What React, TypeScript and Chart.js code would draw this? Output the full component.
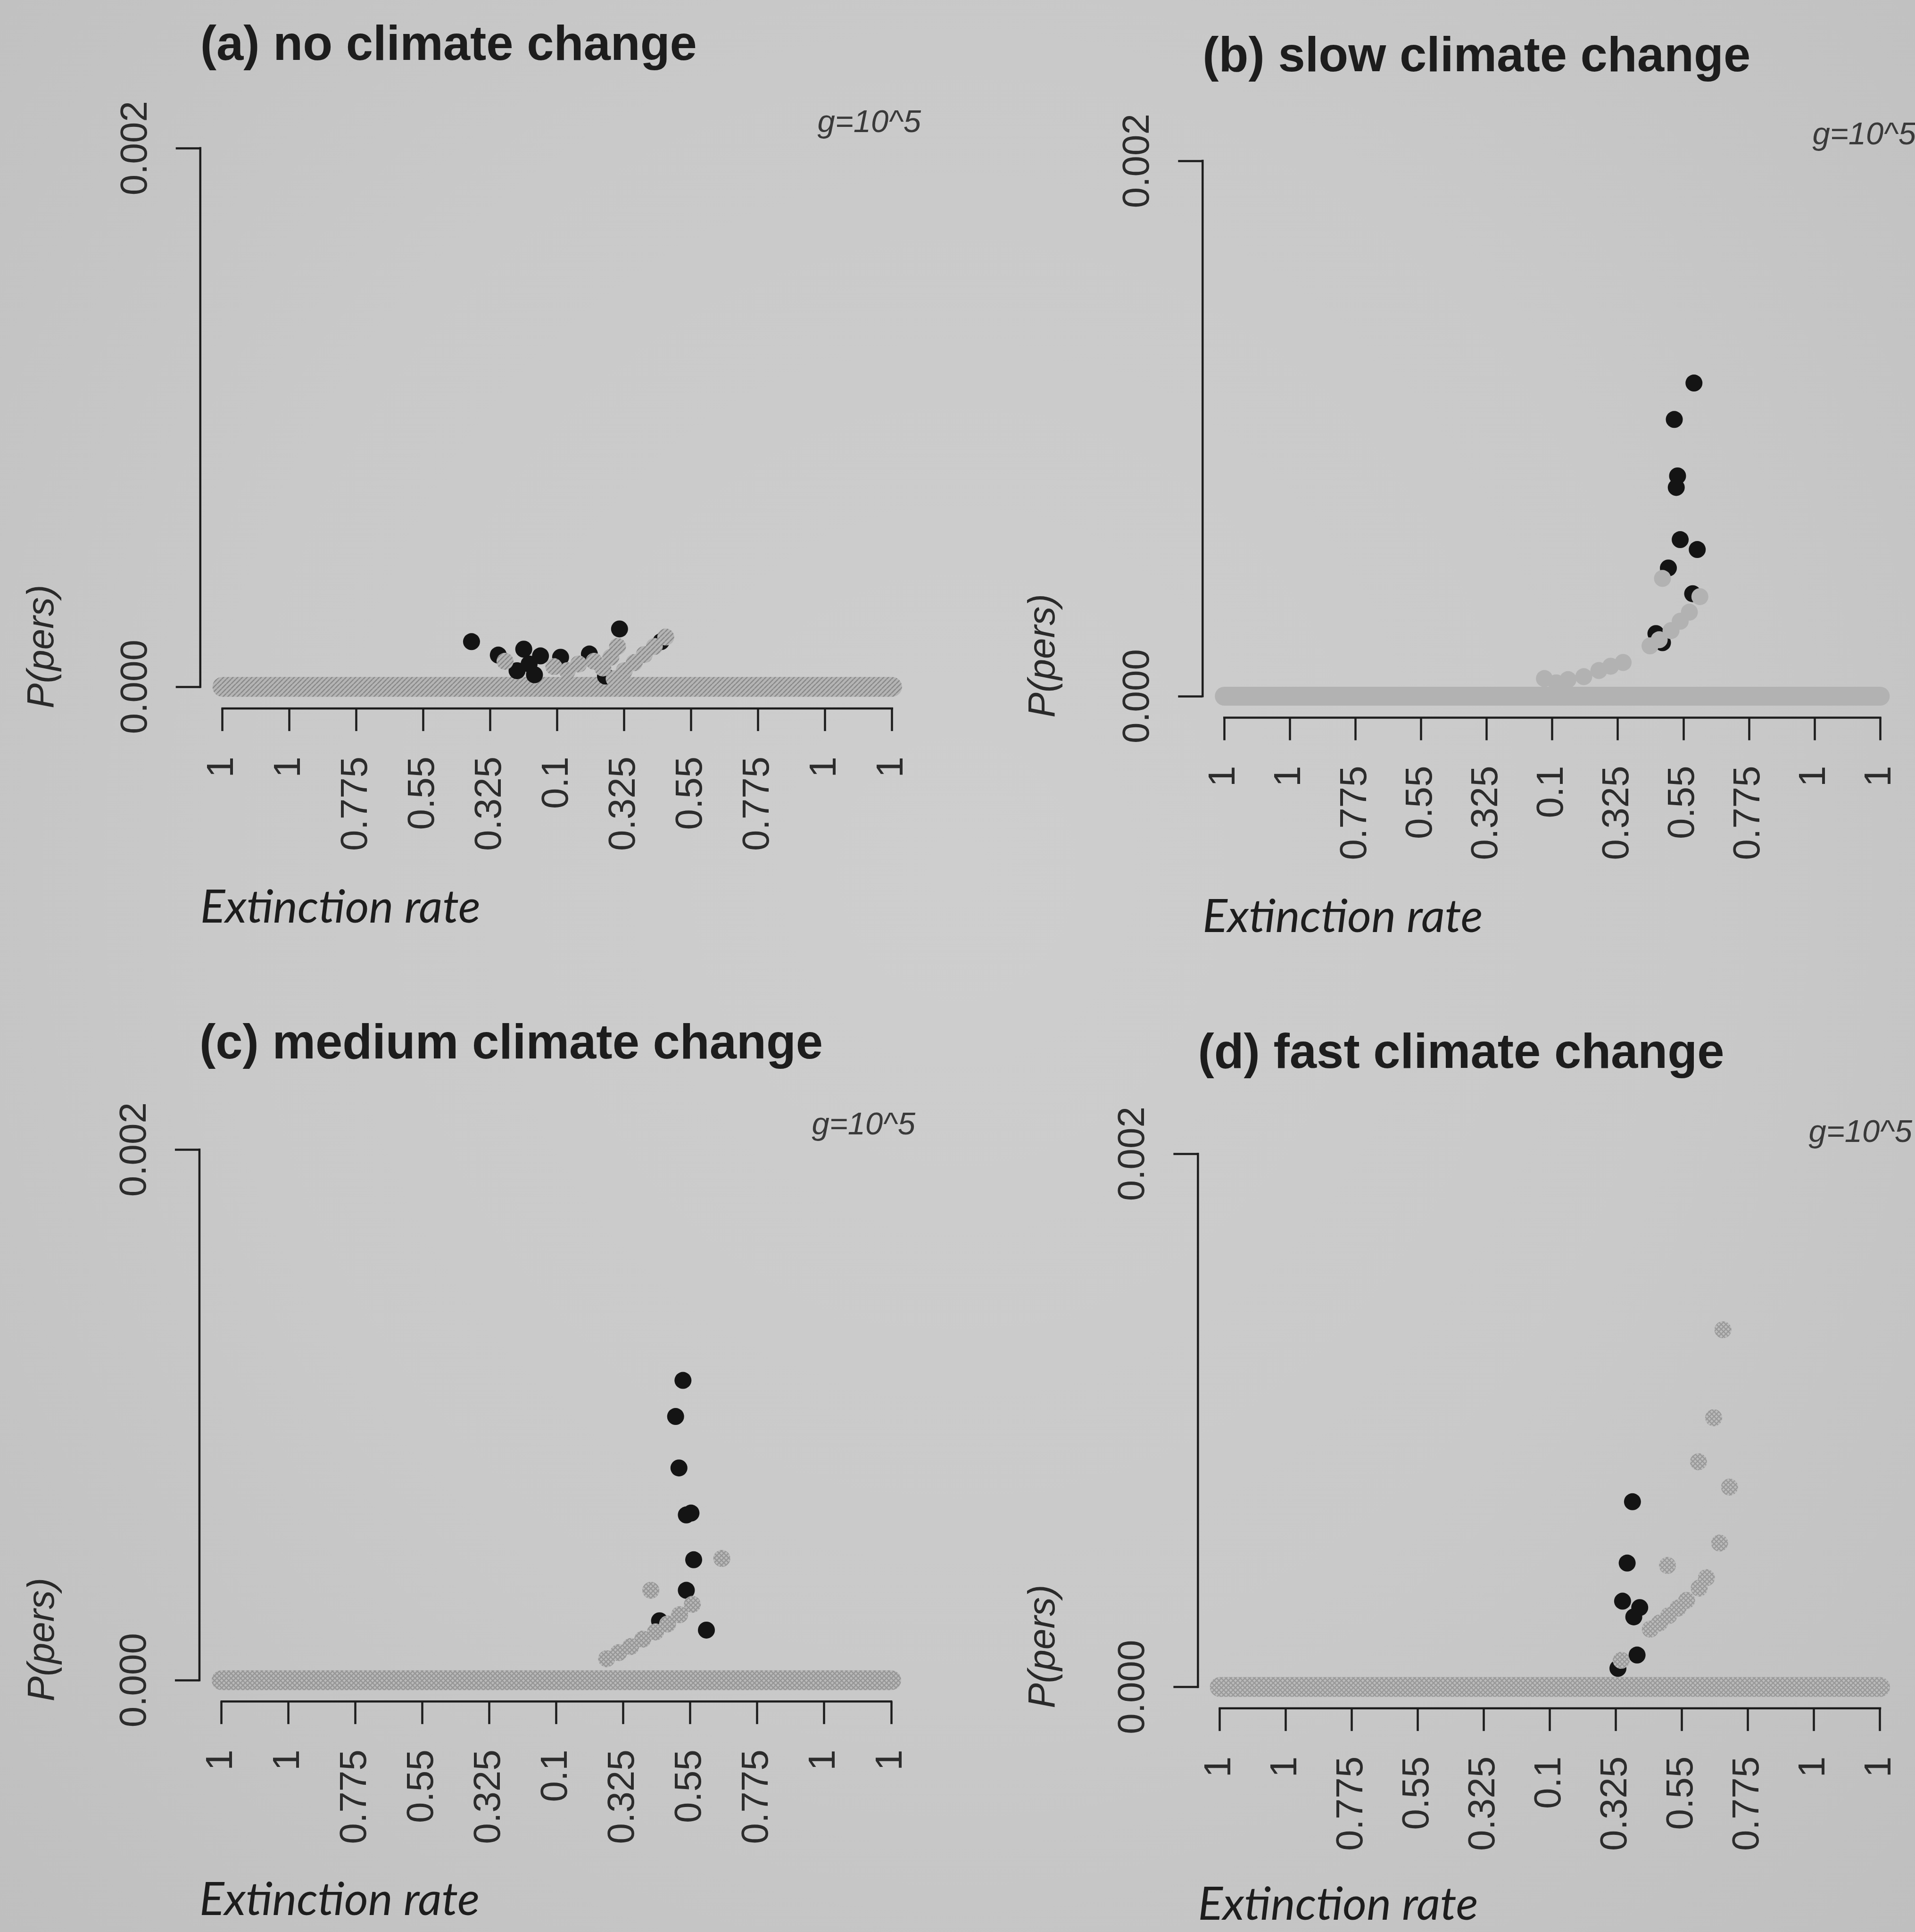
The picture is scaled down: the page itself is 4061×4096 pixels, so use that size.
import React, { useEffect, useRef } from "react";
import { Chart, registerables } from "chart.js";

Chart.register(...registerables);

// ---------- shared axis content ----------
const xTickPositions = [0, 1, 2, 3, 4, 5, 6, 7, 8, 9, 10];
const xTickLabels = ["1", "1", "0.775", "0.55", "0.325", "0.1", "0.325", "0.55", "0.775", "1", "1"];
const yTickValues = [0, 0.002];
const yTickLabels = ["0.000", "0.002"];
const xAxisTitle = "Extinction rate";
const yAxisTitle = "P(pers)";
const gLabel = "g=10^5";
const panelTitles = [
  "(a) no climate change",
  "(b) slow climate change",
  "(c) medium climate change",
  "(d) fast climate change",
];

// zero-persistence band (all extinction-rate combinations with P = 0)
const bandX = [0, 10];
const bandY = [0, 0];

// ---------- (a) no climate change ----------
const aBlackX = [3.72, 4.12, 4.4, 4.5, 4.58, 4.66, 4.75, 5.05, 5.48, 5.93, 5.72, 6.55];
const aBlackY = [0.000168, 0.000118, 0.00006, 0.00014, 0.000085, 0.000045, 0.000115, 0.00011, 0.000122, 0.000215, 0.00004, 0.000168];
const aGrayX = [4.22, 4.95, 5.15, 5.32, 5.55, 5.68, 5.8, 5.9, 5.85, 6.0, 6.15, 6.3, 6.45, 6.62];
const aGrayY = [0.000095, 0.000075, 0.00006, 0.000085, 0.000095, 0.00007, 0.00011, 0.00015, 0.00003, 0.00006, 0.00009, 0.00012, 0.00015, 0.000185];

// ---------- (b) slow climate change ----------
const bBlackX = [7.16, 6.86, 6.91, 6.89, 6.95, 7.21, 6.77, 7.14, 6.58, 6.68];
const bBlackY = [0.00117, 0.001034, 0.000823, 0.00078, 0.000585, 0.000548, 0.000479, 0.000383, 0.000234, 0.0002];
const bGrayX = [4.88, 5.06, 5.24, 5.48, 5.71, 5.89, 6.08, 6.49, 6.63, 6.81, 6.95, 7.09, 7.25, 6.68];
const bGrayY = [0.000066, 0.00005, 0.000062, 0.000073, 0.000096, 0.000112, 0.000126, 0.000188, 0.000211, 0.000245, 0.00028, 0.000314, 0.000372, 0.00044];

// ---------- (c) medium climate change ----------
const cBlackX = [6.89, 6.78, 6.83, 6.94, 7.01, 7.05, 6.94, 7.24, 6.54];
const cBlackY = [0.00113, 0.000994, 0.0008, 0.000623, 0.00063, 0.000454, 0.000339, 0.000189, 0.000224];
const cGrayX = [7.47, 6.41, 5.75, 5.93, 6.11, 6.29, 6.48, 6.66, 6.84, 7.03];
const cGrayY = [0.000459, 0.000339, 0.000081, 0.000104, 0.000127, 0.000155, 0.000182, 0.000212, 0.000247, 0.000286];

// ---------- (d) fast climate change ----------
const dBlackX = [6.25, 6.17, 6.1, 6.36, 6.27, 6.32, 6.03];
const dBlackY = [0.000695, 0.000465, 0.000322, 0.000298, 0.000263, 0.00012, 0.00007];
const dGrayX = [7.62, 7.48, 7.25, 7.72, 7.57, 6.78, 7.37, 7.26, 7.07, 6.94, 6.8, 6.66, 6.52, 6.08];
const dGrayY = [0.00134, 0.00101, 0.000845, 0.00075, 0.00054, 0.000456, 0.00041, 0.000371, 0.000325, 0.000296, 0.000268, 0.00024, 0.000217, 0.0001];

// ---------- styling / layout (not data) ----------
const X_MIN = -0.33;
const X_MAX = 10.4;
const Y_MIN = -0.00008;
const Y_MAX = 0.00208;
const POINT_R = 18;
const INK = "#1d1d1d";
const TICK_INK = "#2c2c2c";
const SANS = '"Liberation Sans", Arial, sans-serif';
const TICK_SIZE = 80;
const TITLE_SIZE = 103;
const XTITLE_SIZE = 98;
const G_SIZE = 67;

type PanelSpec = {
  title: string;
  blackX: number[];
  blackY: number[];
  grayX: number[];
  grayY: number[];
  left: number;
  top: number;
  w: number;
  h: number;
  tick0: number;
  tick10: number;
  y0: number;
  y002: number;
  titleY: number;
  gY: number;
  gRight: number;
  pX: number;
  eY: number;
  hatch: "diag" | "cross" | "solid";
  base: string;
  line: string;
  bandWidth: number;
};

const panels: PanelSpec[] = [
  {
    title: panelTitles[0], blackX: aBlackX, blackY: aBlackY, grayX: aGrayX, grayY: aGrayY,
    left: 0, top: 0, w: 2030, h: 2048,
    tick0: 471.6, tick10: 1891.8, y0: 1456.2, y002: 314.1,
    titleY: 99, gY: 261, gRight: 1953, pX: 91, eY: 1924,
    hatch: "diag", base: "#b5b5b5", line: "#8a8a8a", bandWidth: 42,
  },
  {
    title: panelTitles[1], blackX: bBlackX, blackY: bBlackY, grayX: bGrayX, grayY: bGrayY,
    left: 2030, top: 0, w: 2031, h: 2048,
    tick0: 2596.5, tick10: 3996, y0: 1476, y002: 341.1,
    titleY: 123, gY: 287, gRight: 4063, pX: 2214, eY: 1944,
    hatch: "solid", base: "#b2b2b2", line: "#b2b2b2", bandWidth: 40,
  },
  {
    title: panelTitles[2], blackX: cBlackX, blackY: cBlackY, grayX: cGrayX, grayY: cGrayY,
    left: 0, top: 2048, w: 2030, h: 2048,
    tick0: 469.8, tick10: 1890, y0: 3562.2, y002: 2437.2,
    titleY: 2216, gY: 2386, gRight: 1941, pX: 92, eY: 4028,
    hatch: "cross", base: "#bababa", line: "#979797", bandWidth: 42,
  },
  {
    title: panelTitles[3], blackX: dBlackX, blackY: dBlackY, grayX: dGrayX, grayY: dGrayY,
    left: 2030, top: 2048, w: 2031, h: 2048,
    tick0: 2586.6, tick10: 3987, y0: 3576.6, y002: 2446.2,
    titleY: 2236, gY: 2402, gRight: 4055, pX: 2214, eY: 4038,
    hatch: "cross", base: "#bcbcbc", line: "#9a9a9a", bandWidth: 42,
  },
];

function makeFill(kind: string, base: string, line: string): any {
  if (kind === "solid") return base;
  const s = 10;
  const c = document.createElement("canvas");
  c.width = s;
  c.height = s;
  const g = c.getContext("2d") as CanvasRenderingContext2D;
  g.fillStyle = base;
  g.fillRect(0, 0, s, s);
  g.strokeStyle = line;
  g.lineWidth = 2.6;
  g.beginPath();
  for (const o of [-s, 0, s]) {
    g.moveTo(o, s);
    g.lineTo(o + s, 0);
  }
  g.stroke();
  if (kind === "cross") {
    g.beginPath();
    for (const o of [-s, 0, s]) {
      g.moveTo(o, 0);
      g.lineTo(o + s, s);
    }
    g.stroke();
  }
  return g.createPattern(c, "repeat");
}

const zip = (xs: number[], ys: number[]) => xs.map((x, i) => ({ x, y: ys[i] }));

const rAxesPlugin = {
  id: "rAxes",
  afterDraw(chart: any, _args: any, opts: any) {
    const { ctx, chartArea } = chart;
    const xs = chart.scales.x;
    const ys = chart.scales.y;
    ctx.save();
    ctx.strokeStyle = INK;
    ctx.lineWidth = 4.5;
    ctx.lineCap = "square";
    // y axis segment (0 .. 0.002)
    ctx.beginPath();
    ctx.moveTo(chartArea.left, ys.getPixelForValue(yTickValues[0]));
    ctx.lineTo(chartArea.left, ys.getPixelForValue(yTickValues[yTickValues.length - 1]));
    ctx.stroke();
    // x axis segment (first .. last tick)
    ctx.beginPath();
    ctx.moveTo(xs.getPixelForValue(xTickPositions[0]), chartArea.bottom);
    ctx.lineTo(xs.getPixelForValue(xTickPositions[xTickPositions.length - 1]), chartArea.bottom);
    ctx.stroke();
    // y tick labels, parallel to the axis
    ctx.fillStyle = TICK_INK;
    ctx.font = `${TICK_SIZE}px ${SANS}`;
    ctx.textAlign = "center";
    ctx.textBaseline = "middle";
    yTickValues.forEach((v, i) => {
      ctx.save();
      ctx.translate(chartArea.left - 136, ys.getPixelForValue(v));
      ctx.rotate(-Math.PI / 2);
      ctx.fillText(yTickLabels[i], 0, 0);
      ctx.restore();
    });
    // g label
    ctx.font = `italic ${G_SIZE}px ${SANS}`;
    ctx.fillStyle = "#3a3a3a";
    ctx.textAlign = "right";
    ctx.textBaseline = "middle";
    ctx.fillText(gLabel, opts.gRight, opts.gY);
    ctx.restore();
  },
};

function ChartPanel({ p }: { p: PanelSpec }) {
  const ref = useRef<HTMLCanvasElement | null>(null);
  useEffect(() => {
    const canvas = ref.current;
    if (!canvas) return;
    const sp = (p.tick10 - p.tick0) / 10;
    const ppu = (p.y0 - p.y002) / 0.002;
    const chartLeft = p.tick0 + X_MIN * sp - p.left;
    const chartRight = p.tick0 + X_MAX * sp - p.left;
    const chartBottom = p.y0 - Y_MIN * ppu - p.top;
    const chartTop = p.y002 - (Y_MAX - 0.002) * ppu - p.top;
    const lhT = TITLE_SIZE * 1.2;
    const lhE = XTITLE_SIZE * 1.2;
    const lhP = TICK_SIZE * 1.2;
    const titleRel = p.titleY - p.top;
    const hx = p.eY - p.top - chartBottom + lhE / 2;
    const fill = makeFill(p.hatch, p.base, p.line);

    const chart = new Chart(canvas, {
      type: "scatter",
      data: {
        datasets: [
          {
            label: "gray",
            data: zip(p.grayX, p.grayY),
            backgroundColor: fill,
            borderWidth: 0,
            pointRadius: POINT_R,
            order: 0,
            clip: false,
          } as any,
          {
            label: "black",
            data: zip(p.blackX, p.blackY),
            backgroundColor: "#141414",
            borderWidth: 0,
            pointRadius: POINT_R,
            order: 1,
            clip: false,
          } as any,
          {
            label: "band",
            data: zip(bandX, bandY),
            showLine: true,
            borderColor: fill,
            backgroundColor: fill,
            borderWidth: p.bandWidth,
            borderCapStyle: "round",
            pointRadius: 0,
            order: 2,
            clip: false,
          } as any,
        ],
      },
      options: {
        animation: false,
        responsive: false,
        maintainAspectRatio: false,
        events: [],
        layout: {
          padding: {
            left: 0,
            top: 0,
            right: p.w - chartRight,
            bottom: p.h - chartBottom - hx,
          },
        },
        plugins: {
          legend: { display: false },
          tooltip: { enabled: false },
          title: {
            display: true,
            text: p.title,
            align: "start",
            fullSize: false,
            color: INK,
            font: { family: SANS, size: TITLE_SIZE, weight: "bold", lineHeight: 1.2 },
            padding: { top: titleRel - lhT / 2, bottom: chartTop - titleRel - lhT / 2 },
          },
          rAxes: { gRight: p.gRight - p.left, gY: p.gY - p.top },
        } as any,
        scales: {
          x: {
            type: "linear",
            min: X_MIN,
            max: X_MAX,
            afterBuildTicks: (s: any) => {
              s.ticks = xTickPositions.map((v) => ({ value: v }));
            },
            afterFit: (s: any) => {
              s.height = hx;
              s.paddingLeft = 0;
              s.paddingRight = 0;
            },
            grid: {
              display: true,
              drawOnChartArea: false,
              drawTicks: true,
              tickLength: 48,
              tickWidth: 4.5,
              tickColor: INK,
            },
            border: { display: false },
            ticks: {
              autoSkip: false,
              minRotation: 90,
              maxRotation: 90,
              padding: 54,
              color: TICK_INK,
              font: { family: SANS, size: TICK_SIZE, lineHeight: 1.2 },
              callback: (_v: any, i: number) => xTickLabels[i],
            },
            title: {
              display: true,
              text: xAxisTitle,
              align: "start",
              color: INK,
              font: { family: "Lato, 'Open Sans', sans-serif", style: "italic", size: XTITLE_SIZE, lineHeight: 1.2 },
              padding: 0,
            },
          },
          y: {
            type: "linear",
            min: Y_MIN,
            max: Y_MAX,
            afterBuildTicks: (s: any) => {
              s.ticks = yTickValues.map((v) => ({ value: v }));
            },
            afterFit: (s: any) => {
              s.width = chartLeft;
              s.paddingTop = 0;
              s.paddingBottom = 0;
            },
            grid: {
              display: true,
              drawOnChartArea: false,
              drawTicks: true,
              tickLength: 52,
              tickWidth: 4.5,
              tickColor: INK,
            },
            border: { display: false },
            ticks: { display: false },
            title: {
              display: true,
              text: yAxisTitle,
              align: "start",
              color: "#2a2a2a",
              font: { family: SANS, style: "italic", size: TICK_SIZE, lineHeight: 1.2 },
              padding: { top: p.pX - p.left - lhP / 2, bottom: 0 },
            },
          },
        } as any,
      },
      plugins: [rAxesPlugin as any],
    });
    return () => chart.destroy();
  }, [p]);

  return (
    <canvas
      ref={ref}
      width={p.w}
      height={p.h}
      style={{ position: "absolute", left: p.left, top: p.top, width: p.w, height: p.h }}
    />
  );
}

export default function App() {
  return (
    <div
      style={{
        position: "fixed",
        left: 0,
        top: 0,
        width: 4061,
        height: 4096,
        overflow: "hidden",
        background: "radial-gradient(ellipse at 50% 45%, #cecece 0%, #c9c9c9 55%, #bfbfbf 100%)",
      }}
    >
      {panels.map((p) => (
        <ChartPanel key={p.title} p={p} />
      ))}
    </div>
  );
}
